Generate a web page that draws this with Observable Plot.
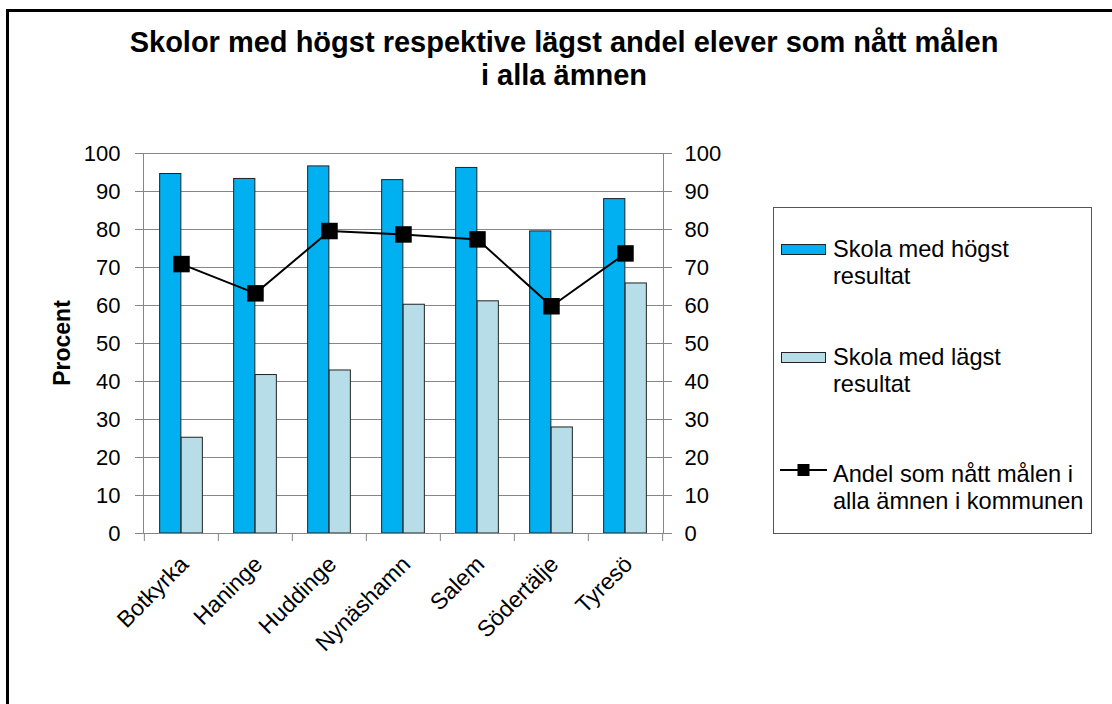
<!DOCTYPE html>
<html>
<head>
<meta charset="utf-8">
<script src="https://cdn.jsdelivr.net/npm/d3@7"></script>
<script src="https://cdn.jsdelivr.net/npm/@observablehq/plot@0.6"></script>
<style>
  body{margin:0;width:1112px;height:704px;overflow:hidden;background:#fff;font-family:"Liberation Sans",Arial,sans-serif;position:relative;color:#000}
  #frame{position:absolute;left:6px;top:9px;width:1300px;height:900px;border:3px solid #000;box-sizing:border-box}
  #title{position:absolute;left:0;top:26px;width:1128px;text-align:center;font-weight:bold;font-size:29px;line-height:33px}
  #chart{position:absolute;left:0;top:120px}
  #ylabel{position:absolute;left:62px;top:343px;transform:translate(-50%,-50%) rotate(-90deg);font-weight:bold;font-size:23px;white-space:nowrap}
  #legend{position:absolute;left:773px;top:207px;width:319px;height:327px;border:1px solid #555;box-sizing:border-box;background:#fff}
  .item{position:absolute;left:0;width:318px;height:60px}
  .sw{position:absolute;left:7px;width:45px;height:11px;box-sizing:border-box;border:1px solid #222}
  .txt{position:absolute;left:59px;top:0;font-size:23.6px;line-height:26.5px;white-space:nowrap}
</style>
</head>
<body>
<div id="frame"></div>
<div id="title">Skolor med högst respektive lägst andel elever som nått målen<br>i alla ämnen</div>
<div id="chart"></div>
<div id="ylabel">Procent</div>
<div id="legend"></div>
<script>
const categories = ["Botkyrka","Haninge","Huddinge","Nynäshamn","Salem","Södertälje","Tyresö"];
const highest = [94.6, 93.3, 96.6, 93.0, 96.2, 79.5, 88.0];
const lowest = [25.2, 41.7, 42.9, 60.2, 61.1, 27.9, 65.8];
const municipality = [70.9, 63.2, 79.6, 78.7, 77.4, 59.8, 73.7];
const yTicks = [0, 10, 20, 30, 40, 50, 60, 70, 80, 90, 100];
const seriesLabels = [
  ["Skola med högst", "resultat"],
  ["Skola med lägst", "resultat"],
  ["Andel som nått målen i", "alla ämnen i kommunen"]
];
const seriesColors = ["#00B0F0", "#B7DEE8", "#000000"];

const rows = categories.map((c, i) => ({name: c, high: highest[i], low: lowest[i], mun: municipality[i]}));

const W = 1112, H = 584, mL = 143, mR = 449, mT = 33, mB = 171;
const bw = (W - mL - mR) / categories.length;
const barW = 21.5;
const grid = "#868686";
const font = '"Liberation Sans", Arial, sans-serif';

const chart = Plot.plot({
  width: W, height: H,
  marginLeft: mL, marginRight: mR, marginTop: mT, marginBottom: mB,
  style: {fontFamily: font, fontSize: "22px", color: "#000", background: "transparent", overflow: "visible"},
  x: {type: "band", domain: categories, padding: 0, axis: null},
  y: {domain: [0, 100], axis: null},
  marks: [
    Plot.gridY(yTicks, {stroke: grid, strokeOpacity: 1}),
    Plot.barY(rows, {x: "name", y: "high", fill: seriesColors[0], stroke: "#222", strokeWidth: 1,
      insetLeft: bw / 2 - barW, insetRight: bw / 2}),
    Plot.barY(rows, {x: "name", y: "low", fill: seriesColors[1], stroke: "#222", strokeWidth: 1,
      insetLeft: bw / 2, insetRight: bw / 2 - barW}),
    Plot.frame({stroke: grid}),
    Plot.axisY(yTicks, {anchor: "left", tickSize: 8, tickPadding: 15, stroke: grid, fill: "#000", fontSize: 22, label: null}),
    Plot.axisY(yTicks, {anchor: "right", tickSize: 8, tickPadding: 13, stroke: grid, fill: "#000", fontSize: 22, label: null}),
    Plot.axisX(categories, {anchor: "bottom", tickSize: 8, tickFormat: () => "", dx: -bw / 2, stroke: grid, label: null}),
    Plot.axisX([categories[categories.length - 1]], {anchor: "bottom", tickSize: 8, tickFormat: () => "", dx: bw / 2, stroke: grid, label: null}),
    Plot.axisX(categories, {anchor: "bottom", tickSize: 0, tickPadding: 27, tickRotate: -45, dx: 3, fill: "#000", fontSize: 23, label: null}),
    Plot.line(rows, {x: "name", y: "mun", stroke: seriesColors[2], strokeWidth: 2}),
    Plot.dot(rows, {x: "name", y: "mun", symbol: "square", r: 9.3, fill: seriesColors[2], stroke: "none"})
  ]
});
document.getElementById("chart").appendChild(chart);

// legend
const legend = document.getElementById("legend");
const tops = [28, 136, 253];
seriesLabels.forEach((lines, i) => {
  const item = document.createElement("div");
  item.className = "item";
  item.style.top = tops[i] + "px";
  if (i < 2) {
    const sw = document.createElement("div");
    sw.className = "sw";
    sw.style.top = "8px";
    sw.style.background = seriesColors[i];
    item.appendChild(sw);
  } else {
    const ns = "http://www.w3.org/2000/svg";
    const s = document.createElementNS(ns, "svg");
    s.setAttribute("width", 47); s.setAttribute("height", 16);
    s.style.position = "absolute"; s.style.left = "6px"; s.style.top = "1px";
    const ln = document.createElementNS(ns, "line");
    ln.setAttribute("x1", 0); ln.setAttribute("x2", 47); ln.setAttribute("y1", 8); ln.setAttribute("y2", 8);
    ln.setAttribute("stroke", seriesColors[2]); ln.setAttribute("stroke-width", 2);
    const sq = document.createElementNS(ns, "rect");
    sq.setAttribute("x", 17.5); sq.setAttribute("y", 2); sq.setAttribute("width", 12); sq.setAttribute("height", 12);
    sq.setAttribute("fill", seriesColors[2]);
    s.appendChild(ln); s.appendChild(sq);
    item.appendChild(s);
  }
  const t = document.createElement("div");
  t.className = "txt";
  t.innerHTML = lines.join("<br>");
  item.appendChild(t);
  legend.appendChild(item);
});
</script>
</body>
</html>
